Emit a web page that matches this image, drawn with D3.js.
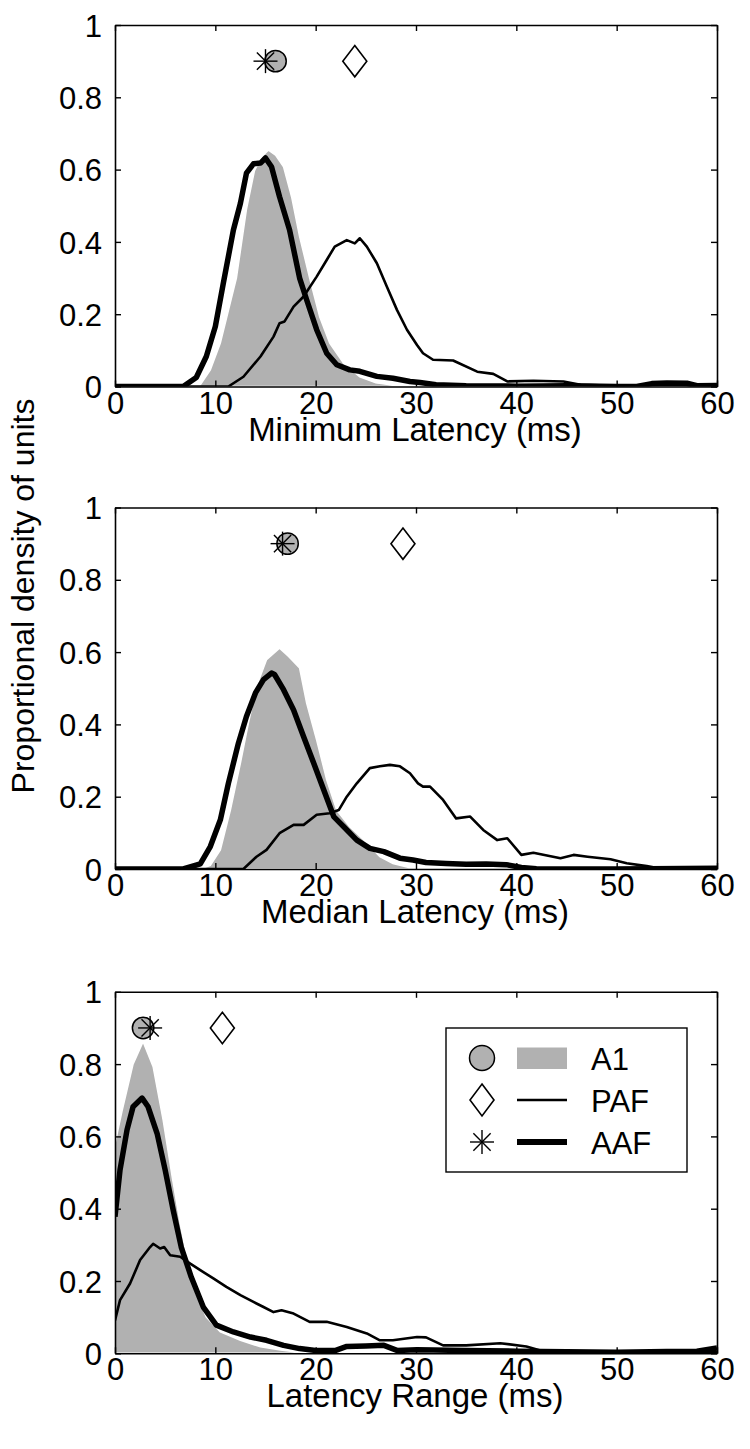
<!DOCTYPE html>
<html>
<head>
<meta charset="utf-8">
<script src="https://cdn.jsdelivr.net/npm/d3@7"></script>
<style>
  html, body { margin: 0; padding: 0; background: #fff; }
  svg { display: block; }
  text { font-family: "Liberation Sans", Arial, Helvetica, sans-serif; fill: #000; }
</style>
</head>
<body>
<svg id="chart" width="750" height="1449"></svg>
<script>
// ---------------- DATA ----------------
const xTicks = [0, 10, 20, 30, 40, 50, 60];
const yTicks = [0, 0.2, 0.4, 0.6, 0.8, 1];
const yTickLabels = ["0", "0.2", "0.4", "0.6", "0.8", "1"];
const xLabels = ["Minimum Latency (ms)", "Median Latency (ms)", "Latency Range (ms)"];
const yLabel = "Proportional density of units";
const seriesNames = ["A1", "PAF", "AAF"];

// Minimum latency panel: [ms, density]
const minA1 = [[7.5,0],[8.5,0.005],[9.5,0.046],[10.5,0.12],[11.3,0.21],[12.1,0.30],[13.1,0.49],[13.9,0.597],[14.6,0.635],[15.3,0.654],[16.0,0.64],[16.8,0.608],[17.6,0.525],[18.4,0.415],[19.4,0.30],[20.4,0.193],[21.4,0.12],[22.8,0.064],[24.4,0.027],[26,0.01],[28,0.003],[30,0],[60,0]];
const minPAF = [[0,0],[11.3,0],[12.8,0.027],[14.5,0.083],[15.8,0.138],[16.4,0.175],[16.9,0.18],[17.8,0.221],[18.8,0.249],[20.1,0.304],[21.1,0.35],[21.9,0.387],[23.1,0.405],[23.9,0.396],[24.4,0.41],[25.1,0.387],[26.1,0.341],[27.1,0.276],[28.1,0.212],[29.1,0.157],[30.1,0.115],[30.7,0.092],[31.7,0.074],[33.7,0.072],[36.1,0.041],[37.7,0.035],[39.1,0.014],[41.7,0.016],[44.7,0.014],[46.4,0.005],[50,0.002],[55,0.004],[60,0.002]];
const minAAF = [[0,0],[6.8,0],[8.1,0.025],[9.1,0.083],[10.0,0.166],[10.8,0.286],[11.8,0.433],[12.5,0.507],[13.1,0.59],[13.8,0.616],[14.5,0.618],[15.0,0.632],[15.6,0.608],[16.4,0.525],[17.4,0.433],[18.4,0.30],[19.1,0.24],[20.1,0.157],[21.1,0.092],[22.1,0.06],[23.4,0.046],[24.4,0.042],[26.1,0.028],[27.7,0.023],[29.4,0.014],[30.4,0.011],[32,0.005],[35,0.002],[40,0.001],[45,0.002],[50,0],[52,0],[53.5,0.008],[55,0.01],[57,0.009],[58,0.002],[60,0.003]];
const minMedians = [16.0, 23.9, 15.0]; // A1, PAF, AAF

// Median latency panel
const medA1 = [[8.5,0],[9.5,0.01],[10.5,0.053],[11.5,0.163],[12.5,0.293],[13.3,0.404],[14.1,0.505],[15.1,0.579],[16.4,0.611],[17.3,0.588],[18.4,0.556],[19.1,0.459],[20.1,0.357],[21.1,0.247],[22.1,0.163],[23.4,0.117],[24.8,0.08],[26.4,0.034],[27.7,0.015],[29.5,0.003],[31,0],[60,0]];
const medPAF = [[0,0],[12.8,0],[14.1,0.034],[15.1,0.053],[16.4,0.099],[17.8,0.122],[18.8,0.122],[20.1,0.15],[21.4,0.154],[22.3,0.163],[23.1,0.2],[24.1,0.237],[25.4,0.279],[26.4,0.284],[27.4,0.288],[28.4,0.284],[29.4,0.265],[30.2,0.237],[30.7,0.228],[31.4,0.228],[32.7,0.191],[34.0,0.14],[35.4,0.145],[36.7,0.108],[38.1,0.08],[39.1,0.085],[40.5,0.039],[41.7,0.045],[44.4,0.03],[45.7,0.039],[47.1,0.034],[49.4,0.027],[51.0,0.016],[53,0.008],[54.6,0],[60,0]];
const medAAF = [[0,0],[6.8,0],[8.5,0.014],[9.5,0.062],[10.5,0.136],[11.3,0.237],[12.3,0.348],[13.1,0.422],[14.0,0.487],[14.8,0.524],[15.6,0.542],[15.9,0.538],[16.8,0.496],[17.8,0.44],[18.8,0.366],[19.8,0.293],[20.8,0.219],[21.8,0.145],[22.8,0.117],[24.1,0.08],[25.4,0.057],[26.8,0.048],[28.4,0.03],[29.7,0.025],[31,0.018],[33,0.015],[35,0.013],[37,0.014],[39,0.012],[40.5,0.004],[42,0.001],[50,0],[60,0.002]];
const medMedians = [17.2, 28.7, 16.7];

// Latency range panel
const rngA1 = [[0,0.58],[0.7,0.67],[1.8,0.8],[2.8,0.862],[3.8,0.793],[4.8,0.645],[5.7,0.488],[6.5,0.359],[7.3,0.248],[8.1,0.165],[9.1,0.1],[10.5,0.059],[12.5,0.036],[14.5,0.018],[16.5,0.009],[18.5,0.002],[20,0],[60,0]];
const rngPAF = [[0,0.091],[0.5,0.147],[1.5,0.193],[2.5,0.258],[3.5,0.294],[3.8,0.303],[4.5,0.29],[4.9,0.294],[5.5,0.271],[6.5,0.267],[7.5,0.248],[8.5,0.23],[9.8,0.207],[11.1,0.184],[12.5,0.161],[13.8,0.142],[14.8,0.128],[15.8,0.114],[16.6,0.119],[17.8,0.11],[19.4,0.087],[21.1,0.087],[23.1,0.073],[25.1,0.055],[26.4,0.036],[27.7,0.036],[30.1,0.045],[31,0.044],[32.7,0.022],[35,0.022],[38.4,0.028],[41,0.019],[42.4,0.008],[45,0.004],[50,0.003],[55,0.003],[60,0.004]];
const rngAAF = [[0,0.378],[0.5,0.507],[1.2,0.618],[1.8,0.682],[2.7,0.706],[3.3,0.682],[4.2,0.608],[5.0,0.507],[5.8,0.396],[6.6,0.294],[7.6,0.211],[8.8,0.128],[10.1,0.078],[11.8,0.059],[13.5,0.045],[15.1,0.036],[16.8,0.022],[18.4,0.013],[20,0.008],[22,0.008],[23.1,0.019],[25,0.02],[26.8,0.022],[28.1,0.008],[30.1,0.01],[35,0.008],[40,0.006],[45,0.004],[50,0.003],[55,0.005],[58,0.006],[60,0.015]];
const rngMedians = [2.8, 10.7, 3.5];

const markerLevel = 0.9;

// ---------------- LAYOUT ----------------
const TICKFONT = 31, LABELFONT = 33, YLABELFONT = 32, LEGENDFONT = 31;
const left = 115, plotW = 602, plotH = 361.5;
const panelTops = [25, 507.5, 991.8];
const GRAY = "#b1b1b1";

const panels = [
  { top: panelTops[0], a1: minA1, paf: minPAF, aaf: minAAF, med: minMedians, label: xLabels[0] },
  { top: panelTops[1], a1: medA1, paf: medPAF, aaf: medAAF, med: medMedians, label: xLabels[1] },
  { top: panelTops[2], a1: rngA1, paf: rngPAF, aaf: rngAAF, med: rngMedians, label: xLabels[2], legend: true }
];

const svg = d3.select("#chart");
const x = d3.scaleLinear().domain([0, 60]).range([0, plotW]);
const y = d3.scaleLinear().domain([0, 1]).range([plotH, 0]);

function asterisk(g, cx, cy, r) {
  const d = r * 0.72;
  const segs = [[-r,0,r,0],[0,-r,0,r],[-d,-d,d,d],[-d,d,d,-d]];
  g.selectAll(null).data(segs).enter().append("line")
    .attr("x1", s => cx + s[0]).attr("y1", s => cy + s[1])
    .attr("x2", s => cx + s[2]).attr("y2", s => cy + s[3])
    .attr("stroke", "#000").attr("stroke-width", 1.4);
}
function diamond(g, cx, cy, hw, hh) {
  g.append("path")
    .attr("d", `M${cx},${cy-hh}L${cx+hw},${cy}L${cx},${cy+hh}L${cx-hw},${cy}Z`)
    .attr("fill", "#fff").attr("stroke", "#000").attr("stroke-width", 1.6);
}
function circ(g, cx, cy, r) {
  g.append("circle").attr("cx", cx).attr("cy", cy).attr("r", r)
    .attr("fill", GRAY).attr("stroke", "#000").attr("stroke-width", 1.5);
}

const area = d3.area().x(d => x(d[0])).y0(y(0)).y1(d => y(d[1]));
const line = d3.line().x(d => x(d[0])).y(d => y(d[1]));

panels.forEach((p, i) => {
  const g = svg.append("g").attr("transform", `translate(${left},${p.top})`);
  const clipId = "clip" + i;
  g.append("clipPath").attr("id", clipId).append("rect")
    .attr("x", 0).attr("y", -2).attr("width", plotW).attr("height", plotH + 2);

  const plot = g.append("g").attr("clip-path", `url(#${clipId})`);
  plot.append("path").datum(p.a1).attr("d", area)
    .attr("fill", GRAY).attr("stroke", "#fff").attr("stroke-width", 1.5);
  plot.append("path").datum(p.paf).attr("d", line)
    .attr("fill", "none").attr("stroke", "#000").attr("stroke-width", 2.6)
    .attr("stroke-linejoin", "round");
  plot.append("path").datum(p.aaf).attr("d", line)
    .attr("fill", "none").attr("stroke", "#000").attr("stroke-width", 5.5)
    .attr("stroke-linejoin", "round");

  // axes (MATLAB-style box, ticks inward)
  const tickFmt = (d) => yTickLabels[yTicks.indexOf(d)];
  const ax = g.append("g").attr("transform", `translate(0,${plotH})`)
    .call(d3.axisBottom(x).tickValues(xTicks).tickSizeInner(-6).tickSizeOuter(0).tickPadding(5));
  const axTop = g.append("g")
    .call(d3.axisTop(x).tickValues(xTicks).tickSizeInner(-6).tickSizeOuter(0).tickFormat(""));
  const ay = g.append("g")
    .call(d3.axisLeft(y).tickValues(yTicks).tickSizeInner(-6).tickSizeOuter(0).tickPadding(13).tickFormat(tickFmt));
  const ayR = g.append("g").attr("transform", `translate(${plotW},0)`)
    .call(d3.axisRight(y).tickValues(yTicks).tickSizeInner(-6).tickSizeOuter(0).tickFormat(""));
  [ax, axTop, ay, ayR].forEach(a => {
    a.selectAll("path.domain").attr("stroke", "#000").attr("stroke-width", 1.6);
    a.selectAll(".tick line").attr("stroke", "#000").attr("stroke-width", 1.4);
    a.selectAll("text").attr("font-size", TICKFONT).style("font-family", '"Liberation Sans", Arial, sans-serif').attr("fill", "#000");
  });
  ay.selectAll("text").attr("dy", "0.36em");

  // medians markers
  const mg = g.append("g");
  circ(mg, x(p.med[0]), y(markerLevel), 10.7);
  diamond(mg, x(p.med[1]), y(markerLevel), 12, 15.7);
  asterisk(mg, x(p.med[2]), y(markerLevel), 12);

  // x label
  g.append("text").attr("x", plotW / 2 - 1).attr("y", plotH + 54)
    .attr("text-anchor", "middle").attr("font-size", LABELFONT).text(p.label);

  if (p.legend) {
    const lg = g.append("g").attr("transform", `translate(${446 - left},${1028 - p.top})`);
    lg.append("rect").attr("x", 0).attr("y", 0).attr("width", 241).attr("height", 144)
      .attr("fill", "#fff").attr("stroke", "#000").attr("stroke-width", 1.4);
    const rows = [30, 72, 114];
    circ(lg, 36, rows[0], 12.5);
    lg.append("rect").attr("x", 71).attr("y", rows[0] - 10.5).attr("width", 50).attr("height", 21.5).attr("fill", GRAY);
    diamond(lg, 36, rows[1], 12, 16);
    lg.append("line").attr("x1", 71).attr("x2", 121).attr("y1", rows[1]).attr("y2", rows[1])
      .attr("stroke", "#000").attr("stroke-width", 2.6);
    asterisk(lg, 36, rows[2], 12);
    lg.append("line").attr("x1", 71).attr("x2", 121).attr("y1", rows[2]).attr("y2", rows[2])
      .attr("stroke", "#000").attr("stroke-width", 6);
    lg.selectAll(null).data(seriesNames).enter().append("text")
      .attr("x", 145).attr("y", (d, k) => rows[k] + 11.5)
      .attr("font-size", LEGENDFONT).text(d => d);
  }
});

// shared y label
svg.append("text")
  .attr("transform", "translate(34,596) rotate(-90)")
  .attr("text-anchor", "middle").attr("font-size", YLABELFONT).text(yLabel);
</script>
</body>
</html>
